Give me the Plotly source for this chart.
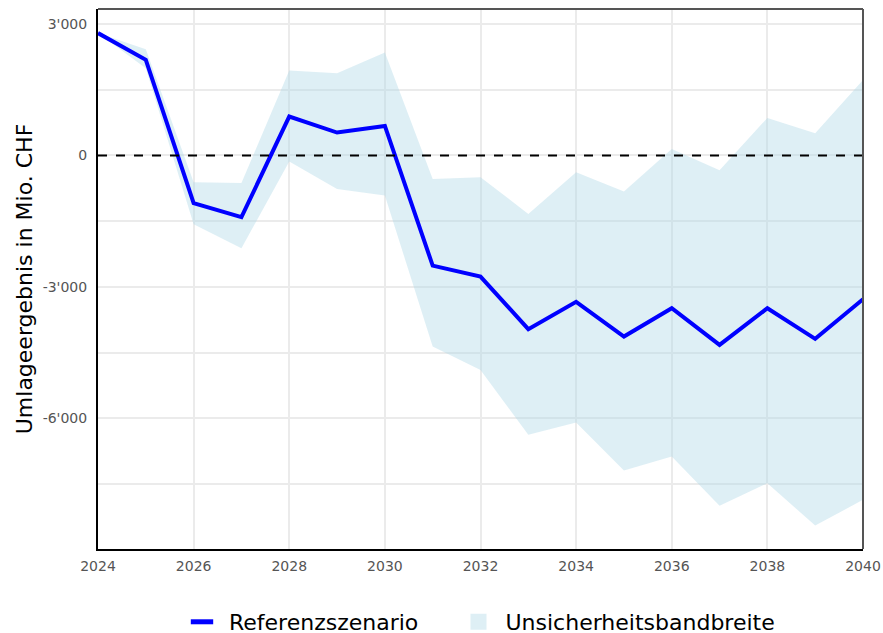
import plotly.graph_objects as go

years = list(range(2024, 2041))
referenz = [2790, 2180, -1090, -1410, 886, 521, 673, -2514, -2765, -3965, -3342, -4133, -3487, -4323, -3487, -4186, -3281]
band_upper = [2790, 2422, -612, -627, 1935, 1875, 2345, -536, -498, -1335, -384, -825, 148, -338, 855, 506, 1723]
band_lower = [2790, 1989, -1570, -2117, -141, -764, -917, -4361, -4894, -6376, -6095, -7190, -6871, -7996, -7479, -8445, -7859]

y_major_vals = [3000, 0, -3000, -6000]
y_major_text = ["3'000", "0", "-3'000", "-6'000"]
y_minor_vals = [1500, -1500, -4500, -7500]
x_tick_vals = list(range(2024, 2041, 2))
x_tick_text = [str(v) for v in x_tick_vals]

FONT = "DejaVu Sans"
BAND = "rgba(173,216,230,0.4)"
BLUE = "#0000ff"

fig = go.Figure()
fig.add_trace(go.Scatter(
    x=years + years[::-1], y=band_upper + band_lower[::-1],
    fill="toself", fillcolor=BAND, line=dict(width=0),
    mode="lines", name="Unsicherheitsbandbreite", hoverinfo="skip", showlegend=False,
))
fig.add_trace(go.Scatter(
    x=years, y=referenz, mode="lines", name="Referenzszenario",
    line=dict(color=BLUE, width=4), showlegend=False,
))
# legend entries
fig.add_trace(go.Scatter(
    x=[None], y=[None], mode="markers", name="Referenzszenario", legend="legend",
    marker=dict(symbol="line-ew", size=26, color=BLUE, line=dict(width=5, color=BLUE)),
))
fig.add_trace(go.Scatter(
    x=[None], y=[None], mode="markers", name="Unsicherheitsbandbreite", legend="legend2",
    marker=dict(symbol="square", size=27, color=BAND, line=dict(width=0)),
))

fig.add_hline(y=0, line=dict(color="black", width=2, dash="dash"))

leg_common = dict(orientation="h", xref="container", xanchor="left",
                  y=0.0174, yanchor="middle", yref="container",
                  font=dict(size=22, family=FONT, color="black"),
                  itemwidth=44, bgcolor="rgba(0,0,0,0)")

fig.update_layout(
    width=883, height=633,
    margin=dict(l=98, r=20, t=9, b=84),
    paper_bgcolor="white", plot_bgcolor="white",
    font=dict(family=FONT, color="black"),
    showlegend=True,
    legend=dict(x=175 / 883, **leg_common),
    legend2=dict(x=451.5 / 883, **leg_common),
)
fig.update_xaxes(
    range=[2024, 2040], tickvals=x_tick_vals, ticktext=x_tick_text,
    tickfont=dict(size=14, color="#555555"), showgrid=True, gridcolor="#ebebeb", gridwidth=2,
    showline=True, linecolor="black", linewidth=2, zeroline=False,
    ticks="outside", ticklen=3, tickcolor="rgba(0,0,0,0)", automargin=False,
)
fig.update_yaxes(
    range=[-8980, 3340], tickvals=y_major_vals, ticktext=y_major_text,
    tickfont=dict(size=14, color="#555555"), showgrid=True, gridcolor="#ebebeb", gridwidth=2,
    minor=dict(tickvals=y_minor_vals, showgrid=True, gridcolor="#ebebeb", gridwidth=2),
    showline=True, linecolor="black", linewidth=2, zeroline=False,
    ticks="outside", ticklen=6, tickcolor="rgba(0,0,0,0)", automargin=False,
    title=dict(text="Umlageergebnis in Mio. CHF", font=dict(size=22, color="black"), standoff=4),
)
# top and right border
fig.add_shape(type="line", xref="paper", yref="paper", x0=0, x1=1, y0=1, y1=1,
              line=dict(color="#555555", width=2))
fig.add_shape(type="line", xref="paper", yref="paper", x0=1, x1=1, y0=0, y1=1,
              line=dict(color="#555555", width=2))

fig.write_html("out.html", config={"displayModeBar": False},
               post_script="document.body.style.margin='0';document.body.style.overflow='hidden';")
